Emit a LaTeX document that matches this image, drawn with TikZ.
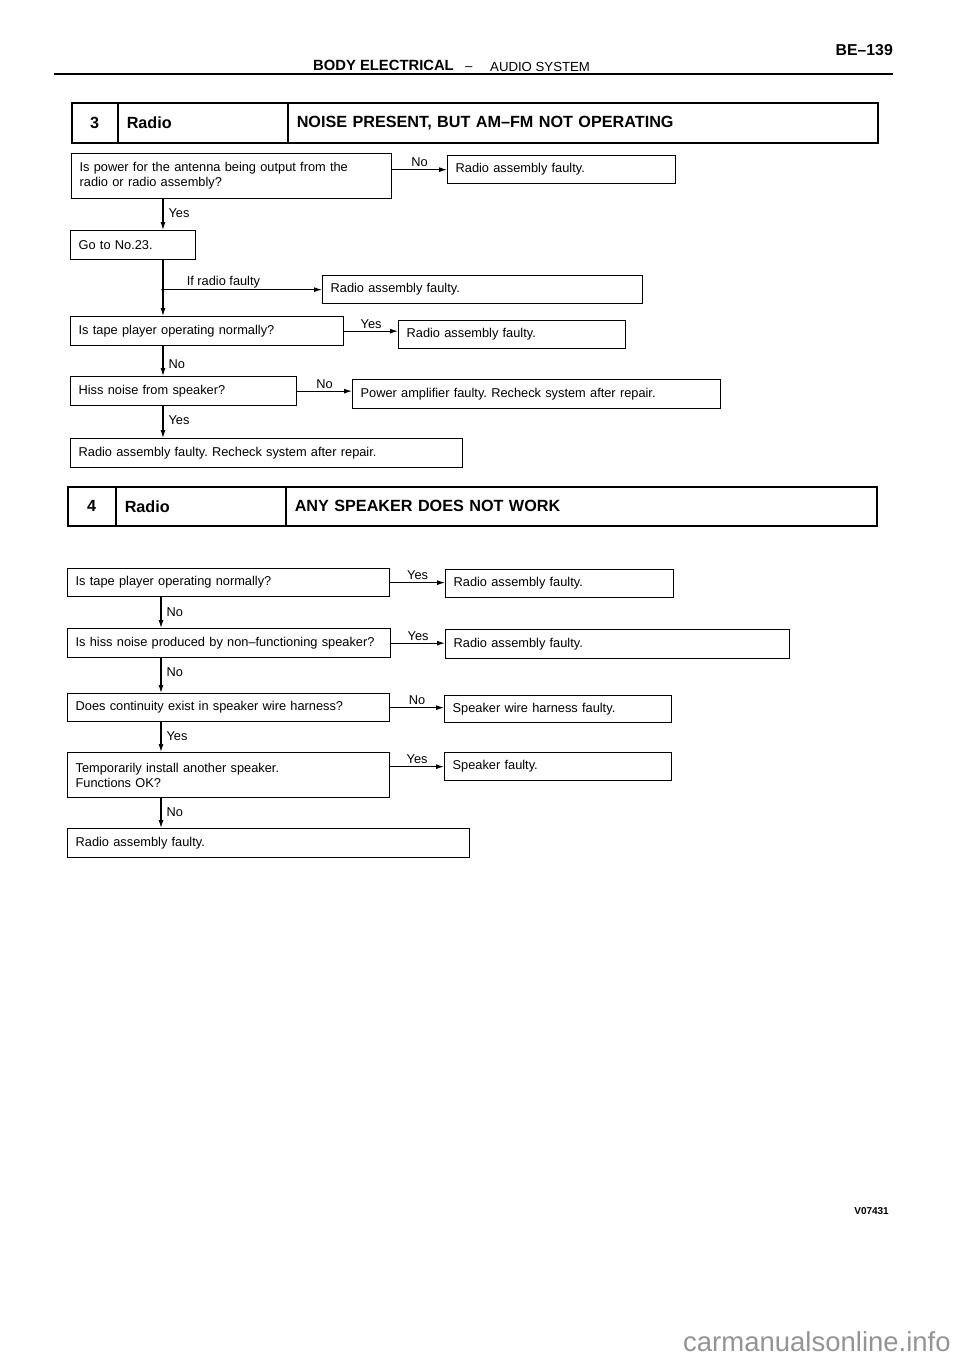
\documentclass[tikz,border=0pt]{standalone}
\usepackage{fontspec}
\setmainfont{Liberation Sans}
\usetikzlibrary{arrows.meta}
\frenchspacing
\newcommand{\bodyfont}{\fontsize{12.8}{15}\selectfont}
\newcommand{\titlefont}{\fontsize{16.2}{19}\selectfont\bfseries}
\begin{document}
\begin{tikzpicture}[x=1pt,y=-1pt,
  box/.style={draw, line width=1.3pt, rectangle, anchor=north west, inner xsep=8pt, inner ysep=0pt, align=left, font=\bodyfont},
  tbox/.style={draw, line width=1.5pt, rectangle, anchor=north west, inner xsep=9pt, inner ysep=0pt, font=\titlefont},
  arr/.style={line width=1.1pt, -{Latex[length=8pt,width=5pt]}},
  lab/.style={font=\bodyfont, inner sep=2pt},
  vlab/.style={font=\bodyfont, inner xsep=5pt, inner ysep=1pt},
  hdr/.style={anchor=base west, inner sep=0pt}
]
\useasboundingbox (0,0) rectangle (960,1358);

% ---------- header ----------
\node[hdr, font=\fontsize{14.8}{17}\selectfont\bfseries] (hd1) at (313,70) {BODY ELECTRICAL};
\node[hdr, font=\fontsize{13.2}{16}\selectfont] (hd2) at (465,70) {--};
\node[hdr, font=\fontsize{13.2}{16}\selectfont] (hd3) at (490,71) {AUDIO SYSTEM};
\node[anchor=base east, inner sep=0pt, font=\fontsize{15.8}{18}\selectfont\bfseries] (pg) at (893,55) {BE--139};
\coordinate (rl) at (54,74);
\coordinate (rr) at (893,74);
\draw[line width=2.2pt] (rl) -- (rr);

% ---------- section 3 ----------
\node[tbox, minimum width=46pt, minimum height=40pt, align=center] (t3a) at (71,102) {3};
\node[tbox, minimum width=170pt, minimum height=40pt, text width=152pt, align=left] (t3b) at (117,102) {Radio};
\node[tbox, minimum width=590pt, minimum height=40pt, text width=572pt, align=left] (t3c) at (287,102) {NOISE PRESENT, BUT AM--FM NOT OPERATING};

\coordinate (v3) at (163,0);

\node[box, minimum width=320pt, minimum height=45pt, text width=304pt] (q1) at (71,153) {Is power for the antenna being output from the\\radio or radio assembly?};
\node[box, minimum width=228pt, minimum height=28pt, text width=212pt] (r1) at (447,155) {Radio assembly faulty.};
\node[box, minimum width=125pt, minimum height=29pt, text width=109pt] (go) at (70,230) {Go to No.23.};
\node[box, minimum width=320pt, minimum height=28pt, text width=304pt] (r2) at (322,275) {Radio assembly faulty.};
\node[box, minimum width=273pt, minimum height=29pt, text width=257pt] (q2) at (70,316) {Is tape player operating normally?};
\node[box, minimum width=227pt, minimum height=28pt, text width=211pt] (r3) at (398,320) {Radio assembly faulty.};
\node[box, minimum width=226pt, minimum height=29pt, text width=210pt] (q3) at (70,376) {Hiss noise from speaker?};
\node[box, minimum width=368pt, minimum height=29pt, text width=352pt] (r4) at (352,379) {Power amplifier faulty. Recheck system after repair.};
\node[box, minimum width=392pt, minimum height=29pt, text width=376pt] (q4) at (70,438) {Radio assembly faulty. Recheck system after repair.};

\draw[arr] (q1.east |- r1.west) -- node[lab, above]{No} (r1.west);
\draw[arr] (q1.south -| v3) -- node[vlab, right, pos=0.45]{Yes} (go.north -| v3);
\draw[arr] (go.south -| v3) -- (q2.north -| v3);
\coordinate (br) at (v3 |- r2.west);
\fill (br) circle (1.8pt);
\draw[arr] (br) -- node[lab, above, pos=0.38, inner sep=1pt]{If radio faulty} (r2.west);
\draw[arr] (q2.east) -- node[lab, above]{Yes} (q2.east -| r3.west);
\draw[arr] (q2.south -| v3) -- node[vlab, right, pos=0.6]{No} (q3.north -| v3);
\draw[arr] (q3.east) -- node[lab, above]{No} (q3.east -| r4.west);
\draw[arr] (q3.south -| v3) -- node[vlab, right, pos=0.45]{Yes} (q4.north -| v3);

% ---------- section 4 ----------
\node[tbox, minimum width=48pt, minimum height=39pt, align=center] (t4a) at (67,486) {4};
\node[tbox, minimum width=170pt, minimum height=39pt, text width=152pt, align=left] (t4b) at (115,486) {Radio};
\node[tbox, minimum width=591pt, minimum height=39pt, text width=573pt, align=left] (t4c) at (285,486) {ANY SPEAKER DOES NOT WORK};

\coordinate (v4) at (161,0);

\node[box, minimum width=322pt, minimum height=28pt, text width=306pt] (q5) at (67,568) {Is tape player operating normally?};
\node[box, minimum width=228pt, minimum height=28pt, text width=212pt] (r5) at (445,569) {Radio assembly faulty.};
\node[box, minimum width=323pt, minimum height=29pt, text width=307pt] (q6) at (67,628) {Is hiss noise produced by non--functioning speaker?};
\node[box, minimum width=344pt, minimum height=29pt, text width=328pt] (r6) at (445,629) {Radio assembly faulty.};
\node[box, minimum width=322pt, minimum height=28pt, text width=306pt] (q7) at (67,693) {Does continuity exist in speaker wire harness?};
\node[box, minimum width=227pt, minimum height=27pt, text width=211pt, inner xsep=6pt] (r7) at (444,695) {Speaker wire harness faulty.};
\node[box, minimum width=322pt, minimum height=45pt, text width=306pt, inner xsep=6pt] (q8) at (67,752) {Temporarily install another speaker.\\Functions OK?};
\node[box, minimum width=227pt, minimum height=28pt, text width=211pt] (r8) at (444,752) {Speaker faulty.};
\node[box, minimum width=402pt, minimum height=29pt, text width=386pt] (q9) at (67,828) {Radio assembly faulty.};

\draw[arr] (q5.east) -- node[lab, above]{Yes} (q5.east -| r5.west);
\draw[arr] (q5.south -| v4) -- node[vlab, right, pos=0.5]{No} (q6.north -| v4);
\draw[arr] (q6.east) -- node[lab, above]{Yes} (q6.east -| r6.west);
\draw[arr] (q6.south -| v4) -- node[vlab, right, pos=0.4]{No} (q7.north -| v4);
\draw[arr] (q7.east) -- node[lab, above]{No} (q7.east -| r7.west);
\draw[arr] (q7.south -| v4) -- node[vlab, right, pos=0.45]{Yes} (q8.north -| v4);
\draw[arr] (q8.east |- r8.west) -- node[lab, above]{Yes} (r8.west);
\draw[arr] (q8.south -| v4) -- node[vlab, right, pos=0.45]{No} (q9.north -| v4);

% ---------- footer ----------
\node[anchor=base east, inner sep=0pt, font=\fontsize{10}{12}\selectfont\bfseries] (code) at (889,1214) {V07431};
\node[anchor=base west, inner sep=0pt, text=black!42, font=\fontsize{27.5}{32}\selectfont] (wm) at (683,1351) {carmanualsonline.info};
\end{tikzpicture}
\end{document}
